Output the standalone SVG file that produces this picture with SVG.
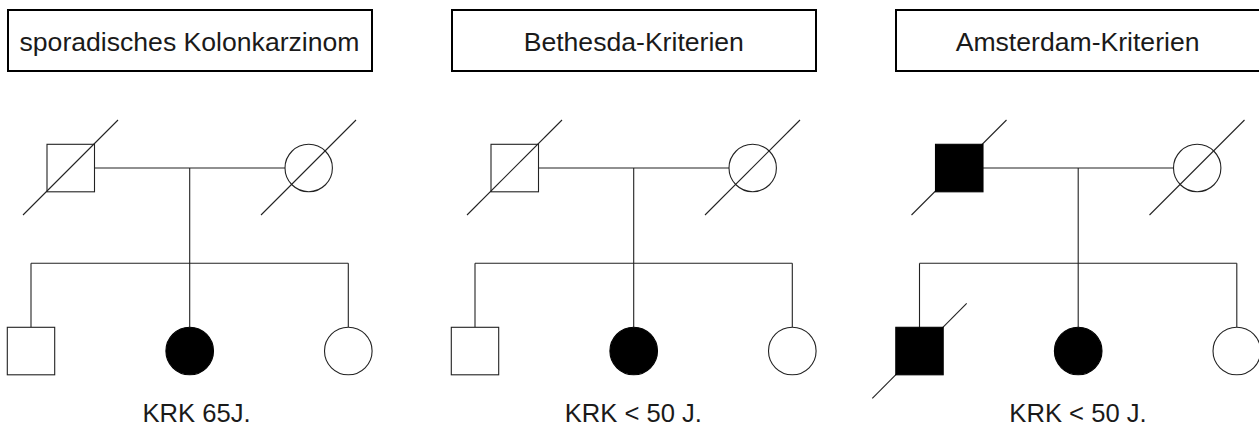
<svg xmlns="http://www.w3.org/2000/svg" width="1259" height="427" viewBox="0 0 1259 427">
  <style>
    .bg { fill: #ffffff; }
    .title-box { fill: #ffffff; stroke: #000000; stroke-width: 2; }
    .title { font-family: "Liberation Sans", Arial, sans-serif; font-size: 26.6px; fill: #1a1a1a; text-anchor: middle; }
    .label { font-family: "Liberation Sans", Arial, sans-serif; font-size: 25.6px; fill: #1a1a1a; text-anchor: middle; }
    .line { fill: none; stroke: #222222; stroke-width: 1.1; }
    .open { fill: #ffffff; stroke: #222222; stroke-width: 1.1; }
    .affected { fill: #000000; stroke: #000000; stroke-width: 1.1; }
    .deceased { stroke: #222222; stroke-width: 1.1; }
  </style>

  <rect class="bg" x="0" y="0" width="1259" height="427"/>

  <!-- Headings -->
  <g id="title-sporadic">
    <rect class="title-box" x="8" y="10" width="364" height="61"/>
    <text class="title" x="189.5" y="50.5">sporadisches Kolonkarzinom</text>
  </g>
  <g id="title-bethesda">
    <rect class="title-box" x="452" y="10" width="364" height="61"/>
    <text class="title" x="633.8" y="50.5">Bethesda-Kriterien</text>
  </g>
  <g id="title-amsterdam">
    <rect class="title-box" x="896" y="10" width="364" height="61"/>
    <text class="title" x="1077.6" y="50.5">Amsterdam-Kriterien</text>
  </g>

  <!-- Pedigree lines: partnership, descent and sibship -->
  <g id="connectors">
    <!-- family 1 -->
    <line class="line" x1="94.5" y1="168" x2="285" y2="168"/>
    <line class="line" x1="189.7" y1="168" x2="189.7" y2="327"/>
    <line class="line" x1="31" y1="263.3" x2="348.3" y2="263.3"/>
    <line class="line" x1="31" y1="263.3" x2="31" y2="327.3"/>
    <line class="line" x1="348.3" y1="263.3" x2="348.3" y2="327"/>
    <!-- family 2 -->
    <line class="line" x1="538.5" y1="168" x2="729" y2="168"/>
    <line class="line" x1="633.7" y1="168" x2="633.7" y2="327"/>
    <line class="line" x1="475" y1="263.3" x2="792.3" y2="263.3"/>
    <line class="line" x1="475" y1="263.3" x2="475" y2="327.3"/>
    <line class="line" x1="792.3" y1="263.3" x2="792.3" y2="327"/>
    <!-- family 3 -->
    <line class="line" x1="983" y1="168" x2="1173.5" y2="168"/>
    <line class="line" x1="1078.2" y1="168" x2="1078.2" y2="327"/>
    <line class="line" x1="919.5" y1="263.3" x2="1236.8" y2="263.3"/>
    <line class="line" x1="919.5" y1="263.3" x2="919.5" y2="327.3"/>
    <line class="line" x1="1236.8" y1="263.3" x2="1236.8" y2="327"/>
  </g>

  <!-- Family 1: sporadic -->
  <g id="f1-father">
    <rect class="open" x="47" y="144.3" width="47.5" height="47.5"/>
    <line class="deceased" x1="23" y1="215" x2="118" y2="120"/>
  </g>
  <g id="f1-mother">
    <circle class="open" cx="308.7" cy="168" r="23.7"/>
    <line class="deceased" x1="261" y1="215" x2="356" y2="120"/>
  </g>
  <g id="f1-son">
    <rect class="open" x="7.3" y="327.3" width="47.4" height="47.5"/>
  </g>
  <g id="f1-index">
    <circle class="affected" cx="189.7" cy="351" r="23.8"/>
  </g>
  <g id="f1-daughter">
    <circle class="open" cx="348.3" cy="351" r="23.8"/>
  </g>
  <text id="f1-label" class="label" x="196.5" y="422">KRK 65J.</text>

  <!-- Family 2: Bethesda -->
  <g id="f2-father">
    <rect class="open" x="491" y="144.3" width="47.5" height="47.5"/>
    <line class="deceased" x1="467" y1="215" x2="562" y2="120"/>
  </g>
  <g id="f2-mother">
    <circle class="open" cx="752.7" cy="168" r="23.7"/>
    <line class="deceased" x1="705" y1="215" x2="800" y2="120"/>
  </g>
  <g id="f2-son">
    <rect class="open" x="451.3" y="327.3" width="47.4" height="47.5"/>
  </g>
  <g id="f2-index">
    <circle class="affected" cx="633.7" cy="351" r="23.8"/>
  </g>
  <g id="f2-daughter">
    <circle class="open" cx="792.3" cy="351" r="23.8"/>
  </g>
  <text id="f2-label" class="label" x="633.3" y="422">KRK &lt; 50 J.</text>

  <!-- Family 3: Amsterdam -->
  <g id="f3-father">
    <line class="deceased" x1="911.5" y1="215" x2="1006.5" y2="120"/>
    <rect class="affected" x="935.5" y="144.3" width="47.5" height="47.5"/>
  </g>
  <g id="f3-mother">
    <circle class="open" cx="1197.2" cy="168" r="23.7"/>
    <line class="deceased" x1="1149.5" y1="215" x2="1244.5" y2="120"/>
  </g>
  <g id="f3-son">
    <line class="deceased" x1="872.3" y1="398.3" x2="966.7" y2="303.3"/>
    <rect class="affected" x="895.8" y="327.3" width="47.4" height="47.5"/>
  </g>
  <g id="f3-index">
    <circle class="affected" cx="1078.2" cy="351" r="23.8"/>
  </g>
  <g id="f3-daughter">
    <circle class="open" cx="1236.8" cy="351" r="23.8"/>
  </g>
  <text id="f3-label" class="label" x="1078" y="422">KRK &lt; 50 J.</text>
</svg>
